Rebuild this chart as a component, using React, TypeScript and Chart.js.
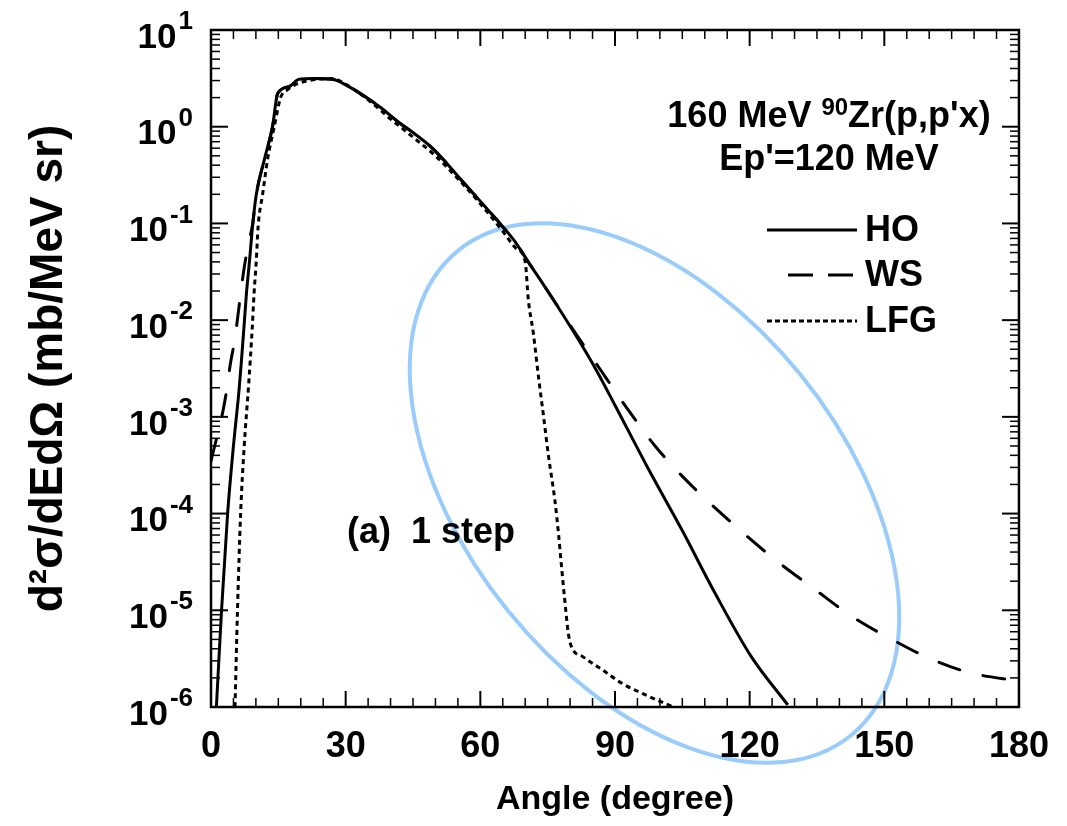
import React, { useEffect, useRef } from "react";
import { Chart, registerables } from "chart.js";

Chart.register(...registerables);

// ---------- data ----------
const HO_ANGLE = [1.2, 2.35, 3.7, 5.0, 6.25, 6.8, 7.35, 7.9, 8.6, 9.3, 10.1, 11.9, 13.7, 14.85, 17.4, 19.6, 23, 27, 30.7, 34.3, 38, 41.7, 45.3, 49, 52.7, 56.4, 60, 63.8, 67.4, 71, 75, 81.4, 86, 90, 97.6, 104.9, 112.3, 120.4, 128.5];
const HO_VALUE = [1e-6, 1e-5, 1e-4, 5e-4, 1.9e-3, 3.9e-3, 8.5e-3, 1.9e-2, 4.2e-2, 9.8e-2, 0.2, 0.46, 1.0, 2.2, 2.6, 3.1, 3.15, 3.1, 2.6, 2.05, 1.55, 1.12, 0.85, 0.62, 0.41, 0.26, 0.17, 0.107, 0.068, 0.038, 0.02, 6.8e-3, 2.95e-3, 1.32e-3, 2.8e-4, 6.8e-5, 1.5e-5, 3.3e-6, 1.05e-6];

const WS_ANGLE = [0, 1, 2, 2.7, 3.5, 4.3, 5.3, 6.0, 6.8, 7.4, 8.3, 9.3, 10.1, 11.9, 13.7, 14.85, 17.4, 19.6, 23, 27, 30.7, 34.3, 38, 41.7, 45.3, 49, 52.7, 56.4, 60, 63.8, 67.4, 71, 75, 81.4, 86.5, 92.5, 99.4, 107.5, 116.3, 125.1, 134.1, 143, 152.4, 160.6, 169.4, 180];
const WS_VALUE = [3.5e-4, 5.4e-4, 8.3e-4, 1.17e-3, 1.9e-3, 3.5e-3, 6.3e-3, 1.12e-2, 2.2e-2, 3.5e-2, 6.0e-2, 0.1, 0.2, 0.46, 1.0, 2.2, 2.6, 3.1, 3.15, 3.1, 2.6, 2.05, 1.55, 1.12, 0.85, 0.62, 0.41, 0.26, 0.17, 0.107, 0.068, 0.038, 0.02, 7.1e-3, 3.2e-3, 1.26e-3, 4.7e-4, 1.86e-4, 7.8e-5, 3.5e-5, 1.7e-5, 8.5e-6, 4.8e-6, 3.1e-6, 2.24e-6, 1.86e-6];

const LFG_ANGLE = [5.35, 5.9, 6.6, 7.4, 8.4, 9.2, 9.6, 10.1, 10.5, 11.5, 12.6, 14.1, 15.5, 17, 19, 21, 24, 27, 30, 35, 40, 45, 50, 55, 60, 65, 68, 70, 70.7, 71.8, 73, 74.1, 75.2, 76.6, 77.4, 78.1, 78.8, 79.6, 80.3, 82.9, 87.3, 91.7, 96.1, 100.5, 103];
const LFG_VALUE = [1e-6, 1e-5, 1e-4, 5e-4, 2.2e-3, 8.5e-3, 1.9e-2, 4.2e-2, 9.3e-2, 0.2, 0.46, 1.0, 2.0, 2.4, 2.75, 2.95, 3.1, 3.15, 2.75, 1.9, 1.2, 0.78, 0.5, 0.29, 0.16, 0.083, 0.055, 0.04, 0.0162, 7.4e-3, 2.5e-3, 1e-3, 3.9e-4, 1.38e-4, 6.3e-5, 2.8e-5, 1.29e-5, 5.8e-6, 4.2e-6, 3.3e-6, 2.4e-6, 1.74e-6, 1.38e-6, 1.12e-6, 1e-6];

const SERIES_LABELS = ["HO", "WS", "LFG"];
const X_TICK_STEP = 30;
const X_MIN = 0;
const X_MAX = 180;
const Y_DECADES = [-6, -5, -4, -3, -2, -1, 0, 1];
const TITLE_LINE1 = ["160 MeV ", "90", "Zr(p,p'x)"];
const TITLE_LINE2 = "Ep'=120 MeV";
const PANEL_LABEL = "(a)  1 step";
const X_TITLE = "Angle (degree)";
const Y_TITLE = "d\u00B2\u03C3/dEd\u03A9 (mb/MeV sr)";
// highlight ellipse centre (in data units)
const ELLIPSE_ANGLE = 98.8;
const ELLIPSE_VALUE = 1.63e-4;

const FONT = '"Liberation Sans", Arial, Helvetica, sans-serif';

function toPoints(xs: number[], ys: number[]) {
  return xs.map((x, i) => ({ x, y: ys[i] }));
}

const ellipsePlugin = {
  id: "highlightEllipse",
  beforeDraw(chart: any) {
    const { ctx, scales } = chart;
    const cx = scales.x.getPixelForValue(ELLIPSE_ANGLE);
    const cy = scales.y.getPixelForValue(ELLIPSE_VALUE);
    ctx.save();
    ctx.beginPath();
    ctx.ellipse(cx, cy, 312, 188, (51 * Math.PI) / 180, 0, Math.PI * 2);
    ctx.strokeStyle = "#99CCFA";
    ctx.lineWidth = 4;
    ctx.stroke();
    ctx.restore();
  },
};

const framePlugin = {
  id: "frameAndText",
  afterDraw(chart: any) {
    const { ctx, chartArea: ca, scales } = chart;
    const xs = scales.x;
    const ys = scales.y;
    ctx.save();
    ctx.strokeStyle = "#000";
    ctx.fillStyle = "#000";
    ctx.setLineDash([]);
    const seg = (x1: number, y1: number, x2: number, y2: number, w: number) => {
      ctx.lineWidth = w;
      ctx.beginPath();
      ctx.moveTo(x1, y1);
      ctx.lineTo(x2, y2);
      ctx.stroke();
    };
    // x ticks (inside, both bottom and top)
    for (let a = X_MIN; a <= X_MAX; a += 5) {
      const px = xs.getPixelForValue(a);
      const major = a % X_TICK_STEP === 0;
      const len = major ? 16 : 9;
      const w = major ? 2 : 1.5;
      seg(px, ca.bottom, px, ca.bottom - len, w);
      seg(px, ca.top, px, ca.top + len, w);
    }
    // y ticks (inside, left and right)
    for (const e of Y_DECADES) {
      for (let m = 1; m <= 9; m++) {
        if (e === Y_DECADES[Y_DECADES.length - 1] && m > 1) break;
        const py = ys.getPixelForValue(m * Math.pow(10, e));
        const len = m === 1 ? 17 : 9;
        const w = m === 1 ? 2 : 1.5;
        seg(ca.left, py, ca.left + len, py, w);
        seg(ca.right, py, ca.right - len, py, w);
      }
    }
    // frame
    ctx.lineWidth = 2.5;
    ctx.strokeRect(ca.left, ca.top, ca.right - ca.left, ca.bottom - ca.top);

    // y tick labels 10^n
    ctx.textBaseline = "middle";
    ctx.textAlign = "right";
    for (const e of Y_DECADES) {
      const py = ys.getPixelForValue(Math.pow(10, e));
      const sup = e < 0 ? "-" + -e : String(e);
      ctx.font = `bold 26px ${FONT}`;
      const sw = ctx.measureText(sup).width;
      const rx = ca.left - 18;
      ctx.fillText(sup, rx, py - 8);
      ctx.font = `bold 35px ${FONT}`;
      ctx.fillText("10", rx - sw - 2, py + 8);
    }

    // annotation title
    ctx.textAlign = "left";
    const tcx = ca.left + 618;
    ctx.font = `bold 36px ${FONT}`;
    const w1 = ctx.measureText(TITLE_LINE1[0]).width;
    const w3 = ctx.measureText(TITLE_LINE1[2]).width;
    ctx.font = `bold 24px ${FONT}`;
    const w2 = ctx.measureText(TITLE_LINE1[1]).width;
    const sx = tcx - (w1 + w2 + w3) / 2;
    const ty1 = ca.top + 87;
    ctx.font = `bold 36px ${FONT}`;
    ctx.fillText(TITLE_LINE1[0], sx, ty1);
    ctx.font = `bold 24px ${FONT}`;
    ctx.fillText(TITLE_LINE1[1], sx + w1, ty1 - 9);
    ctx.font = `bold 36px ${FONT}`;
    ctx.fillText(TITLE_LINE1[2], sx + w1 + w2, ty1);
    ctx.textAlign = "center";
    ctx.fillText(TITLE_LINE2, tcx, ca.top + 130);

    // legend
    const ds = chart.data.datasets;
    const legY = [ca.top + 200, ca.top + 245, ca.top + 291];
    const legDash = [[], [25, 15], [5, 3]];
    const legStart = [ca.left + 556, ca.left + 577, ca.left + 556];
    const legEnd = ca.left + 646;
    ctx.textAlign = "left";
    for (let i = 0; i < ds.length; i++) {
      ctx.save();
      ctx.setLineDash(legDash[i]);
      ctx.lineCap = "butt";
      ctx.strokeStyle = ds[i].borderColor;
      ctx.lineWidth = 3;
      ctx.beginPath();
      ctx.moveTo(legStart[i], legY[i]);
      ctx.lineTo(legEnd, legY[i]);
      ctx.stroke();
      ctx.restore();
      ctx.font = `bold 36px ${FONT}`;
      ctx.fillText(ds[i].label, ca.left + 654, legY[i] + 1);
    }

    // panel label
    ctx.font = `bold 36px ${FONT}`;
    ctx.fillText(PANEL_LABEL, ca.left + 136, ca.top + 503);
    ctx.restore();
  },
};

export default function App() {
  const canvasRef = useRef<HTMLCanvasElement | null>(null);

  useEffect(() => {
    const canvas = canvasRef.current;
    if (!canvas) return;
    const chart = new Chart(canvas, {
      type: "line",
      data: {
        datasets: [
          {
            label: SERIES_LABELS[0],
            data: toPoints(HO_ANGLE, HO_VALUE),
            borderColor: "#000",
            borderWidth: 3,
            pointRadius: 0,
            cubicInterpolationMode: "monotone",
            fill: false,
          },
          {
            label: SERIES_LABELS[1],
            data: toPoints(WS_ANGLE, WS_VALUE),
            borderColor: "#000",
            borderWidth: 3,
            borderDash: [22, 24],
            borderCapStyle: "round",
            pointRadius: 0,
            cubicInterpolationMode: "monotone",
            fill: false,
          },
          {
            label: SERIES_LABELS[2],
            data: toPoints(LFG_ANGLE, LFG_VALUE),
            borderColor: "#000",
            borderWidth: 3,
            borderDash: [5, 4],
            pointRadius: 0,
            cubicInterpolationMode: "monotone",
            fill: false,
          },
        ],
      },
      options: {
        responsive: false,
        animation: false,
        events: [],
        devicePixelRatio: 1,
        layout: { padding: { top: 30, left: 0, right: 40, bottom: 0 } },
        plugins: {
          legend: { display: false },
          tooltip: { enabled: false },
          title: { display: false },
        },
        scales: {
          x: {
            type: "linear",
            min: X_MIN,
            max: X_MAX,
            grid: { display: false, drawTicks: false },
            border: { display: false },
            ticks: {
              stepSize: X_TICK_STEP,
              color: "#000",
              font: { family: FONT, size: 36, weight: "bold" },
              padding: 18,
              maxRotation: 0,
              autoSkip: false,
            },
            title: {
              display: true,
              text: X_TITLE,
              color: "#000",
              font: { family: FONT, size: 34, weight: "bold" },
              padding: { top: 0, bottom: 6 },
            },
            afterFit: (scale: any) => {
              scale.height = 119;
            },
          },
          y: {
            type: "logarithmic",
            min: 1e-6,
            max: 10,
            grid: { display: false, drawTicks: false },
            border: { display: false },
            ticks: { display: false },
            title: {
              display: true,
              text: Y_TITLE,
              color: "#000",
              font: { family: FONT, size: 46, weight: "bold" },
              padding: { top: 22, bottom: 0 },
            },
            afterFit: (scale: any) => {
              scale.width = 211;
            },
          },
        },
      },
      plugins: [ellipsePlugin, framePlugin],
    });
    return () => chart.destroy();
  }, []);

  return (
    <div style={{ position: "absolute", left: 0, top: 0, width: 1067, height: 826, background: "#fff" }}>
      <canvas ref={canvasRef} width={1067} height={826} />
    </div>
  );
}
